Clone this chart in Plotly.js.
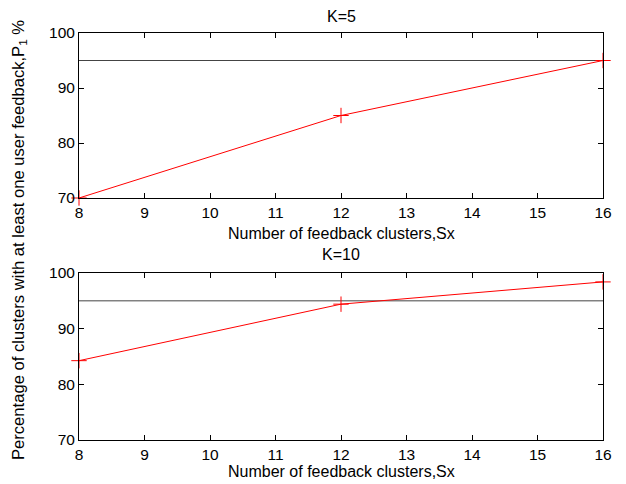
<!DOCTYPE html>
<html><head><meta charset="utf-8">
<script src="https://cdn.plot.ly/plotly-3.0.1.min.js"></script>
<style>body{margin:0;padding:0;background:#fff}#chart{width:626px;height:484px}</style>
</head><body><div id="chart"></div>
<script>
const clusters = [8, 12, 16];
const pK5 = [70, 85, 95];
const pK10 = [84.25, 94.4, 98.4];
const thresholdX = [8, 16];
const threshold = [95, 95];
const xTicks = [8, 9, 10, 11, 12, 13, 14, 15, 16];
const yTicks = [70, 80, 90, 100];
const titles = ['K=5', 'K=10'];
const xLabel = 'Number of feedback clusters,Sx';
const yLabel = 'Percentage of clusters with at least one user feedback,P<sub>1</sub> %';

const F = 'Liberation Sans, Arial, sans-serif';
function redTrace(y, xa, ya) {
  return {x: clusters, y: y, xaxis: xa, yaxis: ya, type: 'scatter', mode: 'lines+markers',
    line: {color: '#ff0000', width: 1},
    marker: {symbol: 'cross-thin', size: 11, line: {color: '#ff0000', width: 1}},
    cliponaxis: false, showlegend: false};
}
function threshTrace(xa, ya) {
  return {x: thresholdX, y: threshold, xaxis: xa, yaxis: ya, type: 'scatter', mode: 'lines',
    line: {color: '#444444', width: 1}, showlegend: false};
}
const data = [threshTrace('x', 'y'), redTrace(pK5, 'x', 'y'),
              threshTrace('x2', 'y2'), redTrace(pK10, 'x2', 'y2')];

function xa(anchor, dom) {
  return {domain: dom, anchor: anchor, range: [8, 16], tickvals: xTicks, ticktext: xTicks.map(String),
    ticks: 'inside', ticklen: 5, tickcolor: '#000', showline: true, linecolor: '#000', linewidth: 1,
    mirror: 'ticks', showgrid: false, zeroline: false, tickfont: {family: F, size: 15.5, color: '#000'}};
}
function ya(anchor, dom) {
  return {domain: dom, anchor: anchor, range: [70, 100], tickvals: yTicks, ticktext: yTicks.map(String),
    ticks: 'inside', ticklen: 5, tickcolor: '#000', showline: true, linecolor: '#000', linewidth: 1,
    mirror: 'ticks', showgrid: false, zeroline: false, tickfont: {family: F, size: 15.5, color: '#000'}};
}
const xd = [79/626, 603/626];
const xc = (xd[0] + xd[1]) / 2;
function ann(text, x, y, extra) {
  return Object.assign({text: text, x: x, y: y, xref: 'paper', yref: 'paper', showarrow: false,
    xanchor: 'center', yanchor: 'middle', font: {family: F, size: 16, color: '#000'}}, extra || {});
}
const layout = {
  width: 626, height: 484, margin: {l: 0, r: 0, t: 0, b: 0},
  paper_bgcolor: '#fff', plot_bgcolor: '#fff',
  xaxis: xa('y', xd), yaxis: ya('x', [1 - 198/484, 1 - 33/484]),
  xaxis2: xa('y2', xd), yaxis2: ya('x2', [1 - 440/484, 1 - 273/484]),
  annotations: [
    ann(titles[0], xc, 1 - 16/484),
    ann(titles[1], xc, 1 - 255/484),
    ann(xLabel, xc, 1 - 233/484),
    ann(xLabel, xc, 1 - 471/484),
    ann(yLabel, 19/626, 1 - 240/484, {textangle: -90, font: {family: F, size: 16.6, color: '#000'}})
  ]
};
Plotly.newPlot('chart', data, layout, {displayModeBar: false, staticPlot: true});
</script></body></html>
